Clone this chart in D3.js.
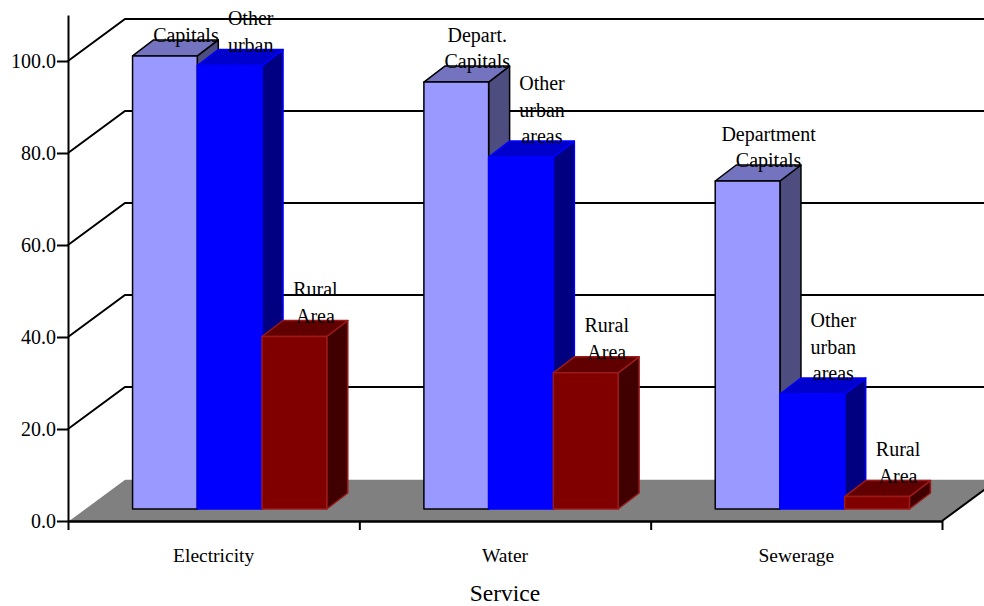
<!DOCTYPE html>
<html>
<head>
<meta charset="utf-8">
<script src="https://cdn.jsdelivr.net/npm/d3@7"></script>
<style>
  html, body { margin: 0; padding: 0; background: #fff; }
  svg { display: block; }
  svg text { font-family: "Liberation Serif", "Times New Roman", serif; }
</style>
</head>
<body>
<svg id="chart" width="984" height="606"></svg>
<script>
// ---- data ----
const categories = ["Electricity", "Water", "Sewerage"];
const seriesNames = ["Capitals", "Other urban areas", "Rural Area"];
const capitals = [98.5, 92.8, 71.3];
const otherUrban = [96.4, 76.5, 25.0];
const ruralArea = [37.5, 29.6, 2.7];
const capitalsLabels = [["Capitals"], ["Depart.", "Capitals"], ["Department", "Capitals"]];
const otherUrbanLabels = [["Other", "urban"], ["Other", "urban", "areas"], ["Other", "urban", "areas"]];
const ruralLabels = [["Rural", "Area"], ["Rural", "Area"], ["Rural", "Area"]];
const yTicks = [0, 20, 40, 60, 80, 100];
const xTitle = "Service";

// ---- styling / geometry ----
const FONT = "'Liberation Serif', 'Times New Roman', serif";
const seriesValues = [capitals, otherUrban, ruralArea];
const seriesLabels = [capitalsLabels, otherUrbanLabels, ruralLabels];
const seriesStyle = [
  { front: "#9999FF", top: "#7373BF", side: "#4D4D80", stroke: "#000000" },
  { front: "#0000FF", top: "#0000CC", side: "#000080", stroke: "#0000FF" },
  { front: "#800000", top: "#600000", side: "#400000", stroke: "#9A1A1A" }
];

const svg = d3.select("#chart").attr("font-family", FONT);
const W = 984;
const x0 = 68, x1 = 942, yBase = 521;
const wallDX = 57, wallDY = 42;
const barFrontDX = 16, barFrontDY = 12;
const barSideDX = 21, barSideDY = 16;

const y = d3.scaleLinear().domain([0, 110]).range([yBase, 15]);
const xCat = d3.scaleBand().domain(categories).range([x0, x1]).padding(0);
const xSer = d3.scaleBand().domain(seriesNames).range([0, xCat.bandwidth()])
  .paddingInner(0).paddingOuter(0.75);
const xEdge = d3.scaleLinear().domain([0, categories.length]).range([x0, x1]);

// ---- back & side wall gridlines ----
const grid = svg.append("g");
yTicks.filter(v => v > 0).forEach(v => {
  const yy = y(v);
  grid.append("path")
    .attr("d", `M${x0},${yy} L${x0 + wallDX},${yy - wallDY} L${W + 5},${yy - wallDY}`)
    .attr("fill", "none").attr("stroke", "#000").attr("stroke-width", 2);
});

// ---- floor ----
const fy = y(0);
svg.append("path")
  .attr("d", `M${x0},${fy} L${x1},${fy} L${x1 + wallDX},${fy - wallDY} L${x0 + wallDX},${fy - wallDY} Z`)
  .attr("fill", "#808080");
svg.append("path")
  .attr("d", `M${x0},${fy} L${x0 + wallDX},${fy - wallDY} L${W + 5},${fy - wallDY}`)
  .attr("fill", "none").attr("stroke", "#ffffff").attr("stroke-width", 1.5);
svg.append("path")
  .attr("d", `M${x1},${fy} L${x1 + wallDX},${fy - wallDY}`)
  .attr("fill", "none").attr("stroke", "#000").attr("stroke-width", 2);

// ---- bars ----
const bars = svg.append("g");
categories.forEach((cat, ci) => {
  seriesNames.forEach((s, si) => {
    const v = seriesValues[si][ci];
    const st = seriesStyle[si];
    const bx = xCat(cat) + xSer(s) + barFrontDX;
    const bw = xSer.bandwidth();
    const by0 = y(0) - barFrontDY;
    const byt = y(v) - barFrontDY;
    const g = bars.append("g")
      .attr("stroke", st.stroke).attr("stroke-width", 1.5).attr("stroke-linejoin", "round");
    g.append("path")
      .attr("d", `M${bx + bw},${byt} L${bx + bw + barSideDX},${byt - barSideDY} L${bx + bw + barSideDX},${by0 - barSideDY} L${bx + bw},${by0} Z`)
      .attr("fill", st.side);
    g.append("path")
      .attr("d", `M${bx},${byt} L${bx + barSideDX},${byt - barSideDY} L${bx + bw + barSideDX},${byt - barSideDY} L${bx + bw},${byt} Z`)
      .attr("fill", st.top);
    g.append("rect")
      .attr("x", bx).attr("y", byt).attr("width", bw).attr("height", by0 - byt)
      .attr("fill", st.front);
  });
});

// ---- data labels ----
const labels = svg.append("g").attr("font-family", FONT).attr("font-size", 20)
  .attr("fill", "#000").attr("text-anchor", "middle");
const lineH = 26.5;
categories.forEach((cat, ci) => {
  seriesNames.forEach((s, si) => {
    const v = seriesValues[si][ci];
    const lines = seriesLabels[si][ci];
    const cx = xCat(cat) + xSer(s) + barFrontDX + xSer.bandwidth() / 2 + barSideDX;
    const lastBase = y(v) - barFrontDY - barSideDY + 2;
    lines.forEach((t, li) => {
      labels.append("text")
        .attr("font-family", FONT)
        .attr("x", cx)
        .attr("y", lastBase - (lines.length - 1 - li) * lineH)
        .text(t);
    });
  });
});

// ---- y axis ----
const yAxis = d3.axisLeft(y).tickValues(yTicks).tickFormat(d3.format(".1f"))
  .tickSize(11).tickSizeOuter(0).tickPadding(1);
const ya = svg.append("g").attr("transform", `translate(${x0},0)`).call(yAxis)
  .attr("font-family", FONT).attr("font-size", 20);
ya.select(".domain").attr("stroke", "#000").attr("stroke-width", 2);
ya.selectAll(".tick line").attr("stroke", "#000").attr("stroke-width", 2);
ya.selectAll(".tick text").attr("font-family", FONT).attr("font-size", 20).attr("fill", "#000");

// ---- x axis ----
const xAxisTicks = d3.axisBottom(xEdge).tickValues(d3.range(categories.length + 1))
  .tickFormat("").tickSize(9).tickSizeOuter(0);
const xa = svg.append("g").attr("transform", `translate(0,${yBase})`).call(xAxisTicks);
xa.select(".domain").attr("stroke", "#000").attr("stroke-width", 2.5);
xa.selectAll(".tick line").attr("stroke", "#000").attr("stroke-width", 2);

const xLab = d3.axisBottom(xCat).tickSize(0).tickPadding(0);
const xl = svg.append("g").attr("transform", `translate(0,${yBase})`).call(xLab)
  .attr("font-family", FONT).attr("font-size", 19.5);
xl.select(".domain").remove();
xl.selectAll(".tick text").attr("font-family", FONT).attr("font-size", 19.5)
  .attr("fill", "#000").attr("dy", null).attr("y", 41);

// ---- axis title ----
svg.append("text")
  .attr("font-family", FONT)
  .attr("x", (x0 + x1) / 2).attr("y", 601)
  .attr("text-anchor", "middle").attr("font-size", 23.5).attr("fill", "#000")
  .text(xTitle);
</script>
</body>
</html>
